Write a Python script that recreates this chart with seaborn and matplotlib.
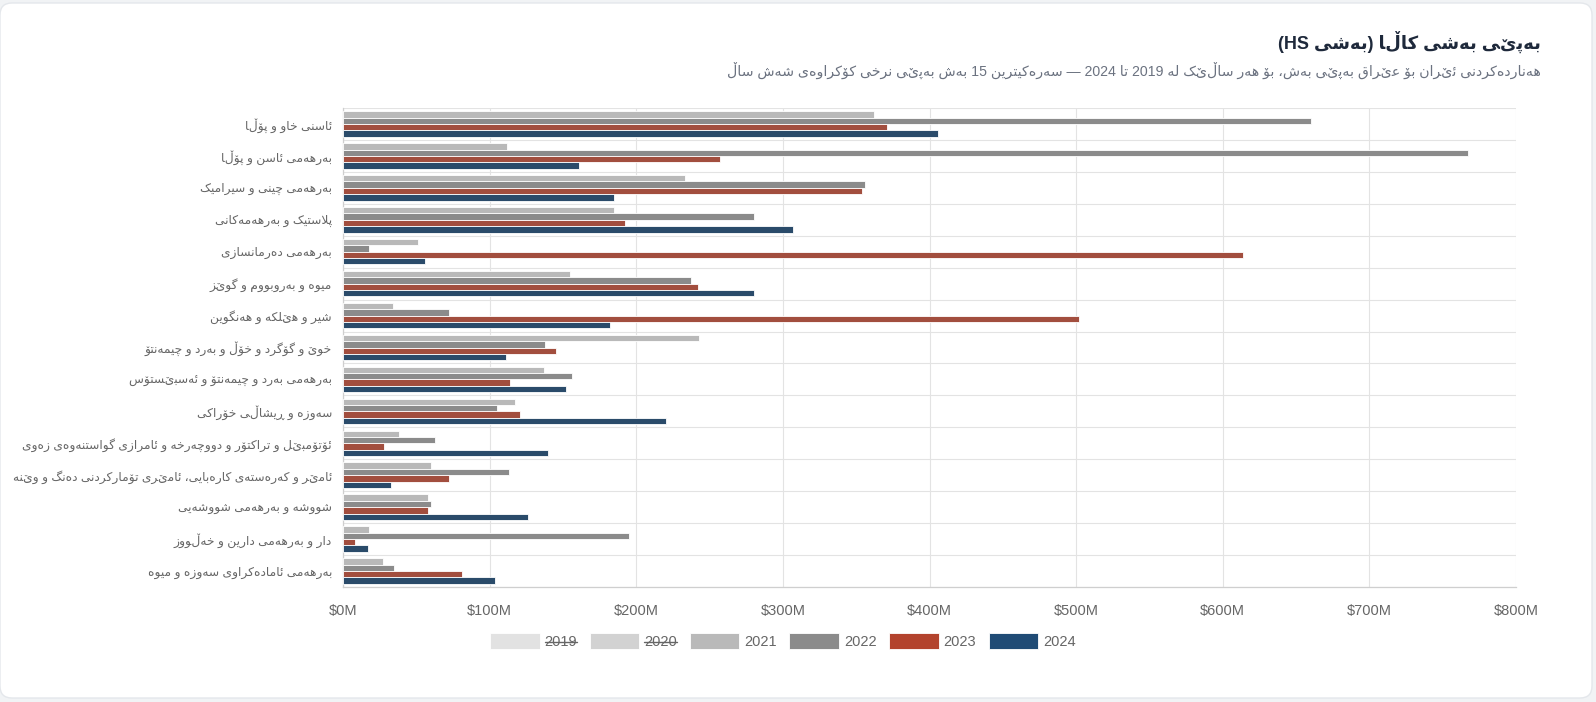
import numpy as np
import pandas as pd
import matplotlib
matplotlib.use("Agg")
import matplotlib.pyplot as plt
import seaborn as sns
from matplotlib.patches import Patch, FancyBboxPatch
from matplotlib.lines import Line2D

# ---------------- data (US$ millions) ----------------
categories = [
    "ئاسنی خاو و پۆڵا",
    "بەرهەمی ئاسن و پۆڵا",
    "بەرهەمی چینی و سیرامیک",
    "پلاستیک و بەرهەمەکانی",
    "بەرهەمی دەرمانسازی",
    "میوە و بەروبووم و گوێز",
    "شیر و هێلکە و هەنگوین",
    "خوێ و گۆگرد و خۆڵ و بەرد و چیمەنتۆ",
    "بەرهەمی بەرد و چیمەنتۆ و ئەسبێستۆس",
    "سەوزە و ڕیشاڵی خۆراکی",
    "ئۆتۆمبێل و تراکتۆر و دووچەرخە و ئامرازی گواستنەوەی زەوی",
    "ئامێر و کەرەستەی کارەبایی، ئامێری تۆمارکردنی دەنگ و وێنە",
    "شووشە و بەرهەمی شووشەیی",
    "دار و بەرهەمی دارین و خەڵووز",
    "بەرهەمی ئامادەکراوی سەوزە و میوە",
]
years = ["2019", "2020", "2021", "2022", "2023", "2024"]
hidden_years = ["2019", "2020"]
values_2021 = [362, 112, 233, 185, 51, 155, 34, 243, 137, 117, 38, 60, 58, 18, 27]
values_2022 = [660, 767, 356, 280, 18, 237, 72, 138, 156, 105, 63, 113, 60, 195, 35]
values_2023 = [371, 257, 354, 192, 614, 242, 502, 145, 114, 121, 28, 72, 58, 8, 81]
values_2024 = [406, 161, 185, 307, 56, 280, 182, 111, 152, 220, 140, 33, 126, 17, 104]
x_ticks = [0, 100, 200, 300, 400, 500, 600, 700, 800]

title = "بەپێی بەشی کاڵا (بەشی HS)"
subtitle = ("هەناردەکردنی ئێران بۆ عێراق بەپێی بەش، بۆ هەر ساڵێک لە 2019 تا 2024 — "
            "سەرەکیترین 15 بەش بەپێی نرخی کۆکراوەی شەش ساڵ")

colors = {"2019": "#e2e2e2", "2020": "#d2d2d2", "2021": "#b9b9b9",
          "2022": "#8b8b8b", "2023": "#b3432d", "2024": "#1f4b75"}

# ---------------- minimal Arabic-script shaping + RTL ordering ----------------
FORMS = {}
_seqB = ([("\u0621", 1), ("\u0622", 2), ("\u0623", 2), ("\u0624", 2), ("\u0625", 2),
          ("\u0626", 4), ("\u0627", 2), ("\u0628", 4), ("\u0629", 2)]
         + [(chr(c), 4) for c in range(0x062A, 0x062F)]
         + [(chr(c), 2) for c in range(0x062F, 0x0633)]
         + [(chr(c), 4) for c in range(0x0633, 0x063B)]
         + [(chr(c), 4) for c in range(0x0641, 0x0648)]
         + [("\u0648", 2), ("\u0649", 2), ("\u064A", 4)])
_code = 0xFE80
for _ch, _n in _seqB:
    FORMS[_ch] = tuple([chr(_code + k) for k in range(_n)] + [None] * (4 - _n))
    _code += _n
for _ch, _start, _n in [("\u067E", 0xFB56, 4), ("\u0686", 0xFB7A, 4), ("\u0698", 0xFB8A, 2),
                        ("\u06A4", 0xFB6A, 4), ("\u06A9", 0xFB8E, 4), ("\u06AF", 0xFB92, 4),
                        ("\u06BE", 0xFBAA, 4), ("\u06C6", 0xFBD9, 2), ("\u06CC", 0xFBFC, 4)]:
    FORMS[_ch] = tuple([chr(_start + k) for k in range(_n)] + [None] * (4 - _n))
FORMS["\u06D5"] = ("\u06D5", "\uFEEA", None, None)
DUAL = {c for c, f in FORMS.items() if f[2] is not None} | {"\u06B5", "\u06CE"}
RIGHT = {c for c, f in FORMS.items() if f[2] is None and f[1] is not None} | {"\u0695"}
LAMALEF = {"\u0622": ("\uFEF5", "\uFEF6"), "\u0623": ("\uFEF7", "\uFEF8"),
           "\u0625": ("\uFEF9", "\uFEFA"), "\u0627": ("\uFEFB", "\uFEFC")}


def _jt(c):
    return "D" if c in DUAL else ("R" if c in RIGHT else None)


def shape(s):
    out, i, n = [], 0, len(s)
    while i < n:
        c = s[i]
        t = _jt(c)
        if t is None:
            out.append(c)
            i += 1
            continue
        cp = i > 0 and _jt(s[i - 1]) == "D"
        if c == "\u0644" and i + 1 < n and s[i + 1] in LAMALEF:
            iso, fin = LAMALEF[s[i + 1]]
            out.append(fin if cp else iso)
            i += 2
            continue
        cn = t == "D" and i + 1 < n and _jt(s[i + 1]) in ("D", "R")
        f = FORMS.get(c)
        if f is None:
            out.append(c)
        else:
            idx = 3 if (cp and cn) else 1 if cp else 2 if cn else 0
            g = f[idx]
            if g is None:
                g = f[1] if (cp and f[1]) else f[0]
            out.append(g)
        i += 1
    return "".join(out)


def _is_rtl(c):
    o = ord(c)
    return ((0x0600 <= o <= 0x06FF and c != "\u060C") or 0xFB50 <= o <= 0xFDFF
            or 0xFE70 <= o <= 0xFEFF)


def visual(s):
    s = shape(s)
    dirs = ["R" if _is_rtl(c) else "L" if (c.isascii() and c.isalnum()) else "N" for c in s]
    n, i = len(s), 0
    while i < n:
        if dirs[i] == "N":
            j = i
            while j < n and dirs[j] == "N":
                j += 1
            prev = dirs[i - 1] if i > 0 else "R"
            nxt = dirs[j] if j < n else "R"
            d = "L" if (prev == "L" and nxt == "L") else "R"
            for k in range(i, j):
                dirs[k] = d
            i = j
        else:
            i += 1
    runs = []
    for c, d in zip(s, dirs):
        if runs and runs[-1][0] == d:
            runs[-1][1].append(c)
        else:
            runs.append([d, [c]])
    mirror = {"(": ")", ")": "(", "[": "]", "]": "["}
    out = []
    for d, chars in reversed(runs):
        if d == "R":
            out.extend(mirror.get(c, c) for c in reversed(chars))
        else:
            out.extend(chars)
    return "".join(out)


# ---------------- figure ----------------
sns.set_theme(style="white")
plt.rcParams["font.family"] = ["Liberation Sans", "DejaVu Sans"]

W, H = 15.96, 7.02
fig = plt.figure(figsize=(W, H), dpi=100)
fig.patch.set_facecolor("#f1f3f5")
card = FancyBboxPatch((0.0, 0.04), 15.92, 6.95,
                      boxstyle="round,pad=0,rounding_size=0.12",
                      transform=fig.dpi_scale_trans, facecolor="white",
                      edgecolor="#e4e7eb", linewidth=1.0, zorder=-5)
fig.patches.append(card)

ax = fig.add_axes([343 / 1596, 1 - 587 / 702, (1516 - 343) / 1596, (587 - 108) / 702])
ax.set_facecolor("none")
ax.set_zorder(2)

visible_years = [y for y in years if y not in hidden_years]
series = {"2021": values_2021, "2022": values_2022, "2023": values_2023, "2024": values_2024}
rows = []
for y in visible_years:
    for cat, v in zip(categories, series[y]):
        rows.append({"category": cat, "year": y, "value": v})
df = pd.DataFrame(rows)

sns.barplot(data=df, x="value", y="category", hue="year", order=categories,
            hue_order=visible_years, palette=[colors[y] for y in visible_years],
            orient="h", width=0.8, edgecolor="white", linewidth=0.6,
            legend=False, ax=ax, zorder=3)

grid_c = "#e3e3e3"
ax.set_xlim(0, 800)
ax.set_ylim(len(categories) - 0.5, -0.5)
ax.set_xticks(x_ticks)
ax.set_xticklabels([f"${v}M" for v in x_ticks], fontsize=10.5, color="#666666")
ax.set_yticks(range(len(categories)))
ax.set_yticklabels([visual(c) for c in categories], fontsize=8.8, color="#666666")
ax.set_yticks(np.arange(-0.5, len(categories), 1.0), minor=True)
ax.tick_params(axis="y", which="major", length=0, pad=8)
ax.tick_params(axis="y", which="minor", length=7, color=grid_c, width=0.8)
ax.tick_params(axis="x", which="major", length=7, color=grid_c, width=0.8, pad=5)
ax.grid(axis="x", which="major", color=grid_c, linewidth=0.8, zorder=0)
ax.grid(axis="y", which="minor", color=grid_c, linewidth=0.8, zorder=0)
ax.grid(axis="y", which="major", visible=False)
ax.set_axisbelow(True)
for sp in ["top", "right"]:
    ax.spines[sp].set_visible(False)
for sp in ["left", "bottom"]:
    ax.spines[sp].set_color("#cfcfcf")
    ax.spines[sp].set_linewidth(0.9)
ax.set_xlabel("")
ax.set_ylabel("")

fig.text(1541 / 1596, 1 - 42 / 702, visual(title), ha="right", va="center",
         fontsize=13, fontweight="bold", color="#1e293b")
fig.text(1541 / 1596, 1 - 70 / 702, visual(subtitle), ha="right", va="center",
         fontsize=10.2, color="#6b7280")

handles = [Patch(facecolor=colors[y], edgecolor="white", linewidth=0.6) for y in years]
leg = fig.legend(handles, years, loc="center", bbox_to_anchor=(783 / 1596, 1 - 641 / 702),
                 ncol=6, frameon=False, fontsize=10.5, handlelength=3.4, handleheight=1.25,
                 handletextpad=0.35, columnspacing=0.85, labelcolor="#666666")

fig.canvas.draw()
renderer = fig.canvas.get_renderer()
fw, fh = fig.bbox.width, fig.bbox.height
for t in leg.get_texts():
    if t.get_text() in hidden_years:
        bb = t.get_window_extent(renderer)
        ym = (bb.y0 + bb.y1) / 2 - 0.5
        fig.add_artist(Line2D([bb.x0 / fw, bb.x1 / fw], [ym / fh, ym / fh],
                              transform=fig.transFigure, color="#666666", linewidth=1.0))

fig.savefig("out.png", dpi=100, facecolor=fig.get_facecolor())
